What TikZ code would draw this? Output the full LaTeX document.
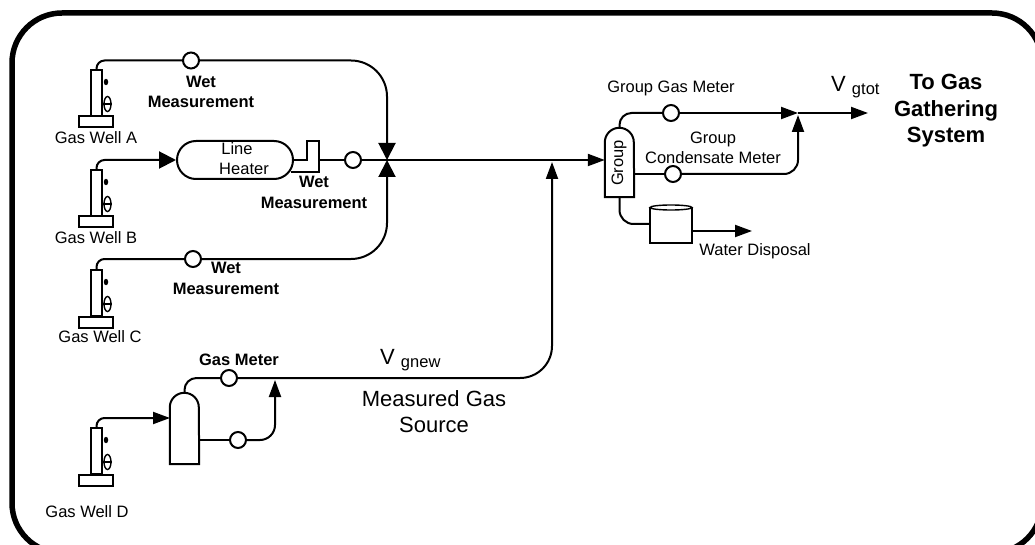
\documentclass[tikz,border=0pt]{standalone}
\usepackage{fontspec}
\setmainfont{Liberation Sans}
\usepackage{tikz}
\usetikzlibrary{arrows.meta,positioning,shapes.geometric}

\tikzset{
  pipe/.style={line width=2pt},
  flow/.style={pipe,-{Triangle[length=17pt,width=12pt]}},
  bigflow/.style={pipe,-{Triangle[length=17pt,width=17pt]}},
  meter/.style={draw,circle,line width=2pt,fill=white,minimum size=16pt,inner sep=0pt},
  lbl/.style={align=center,inner sep=0pt,font=\fontsize{16.5}{20}\selectfont},
  wetlbl/.style={lbl,font=\fontsize{16.5}{20.5}\selectfont\bfseries},
  biglbl/.style={lbl,font=\fontsize{22}{26}\selectfont},
  part/.style={draw,line width=2pt,inner sep=0pt},
}

% drum with a domed top: name, x, y, height
\newcommand{\drum}[4]{
  \node[inner sep=0pt,minimum width=29pt,minimum height=#4pt] (#1) at (#2,#3) {};
  \draw[pipe] (#1.south west) -- ([yshift=-14.5pt]#1.north west)
    arc[start angle=180,end angle=0,radius=14.5pt] -- (#1.south east) -- cycle;
}

\begin{document}
\begin{tikzpicture}[x=1pt,y=-1pt]
  \path[use as bounding box,clip] (0,0) rectangle (1035,545);
  \draw[line width=5.5pt,rounded corners=50pt] (12,13) rectangle (1042,553);

  % wells
  \foreach \nm/\ty in {A/70,B/170,C/270,D/428} {
    \node[part,minimum width=11pt,minimum height=46pt] (well\nm) at (96.5,\ty+23) {};
    \node[part,minimum width=34pt,minimum height=11pt] (base\nm) at (96,\ty+52) {};
    \node[draw,fill,ellipse,minimum width=4pt,minimum height=6pt,inner sep=0pt] (dot\nm) at (106,\ty+12) {};
    \node[draw,ellipse,line width=1.4pt,minimum width=7pt,minimum height=15pt,inner sep=0pt] (valve\nm) at (107.5,\ty+34) {};
    \draw[line width=1.4pt] (valve\nm.west) -- (valve\nm.east);
  }
  \node[lbl] (nameA) at (96,138) {Gas Well A};
  \node[lbl] (nameB) at (96,238) {Gas Well B};
  \node[lbl] (nameC) at (100,337) {Gas Well C};
  \node[lbl] (nameD) at (87,512) {Gas Well D};

  % heater
  \node[part,rounded corners=19pt,minimum width=116pt,minimum height=38pt] (heater) at (235,160) {};
  \node[lbl] (heatA) at (237,149) {Line};
  \node[lbl] (heatB) at (244,169) {Heater};
  \draw[pipe] (heater.east) -- ++(12.5,0) -- ++(0,-19) -- ++(12.5,0) -- ++(0,31) -- ++(-28,0);

  % meters
  \node[meter] (meterA) at (191,60.5) {};
  \node[meter] (meterB) at (353,160) {};
  \node[meter] (meterC) at (193,259) {};
  \node[meter] (meterGas) at (671,113) {};
  \node[meter] (meterCond) at (673,174) {};
  \node[meter] (meterNew) at (229,378) {};
  \node[meter] (meterLow) at (238,440) {};

  % vessels
  \drum{group}{619.5}{162.5}{69}
  \drum{sep}{184.5}{428.5}{71}
  \node[lbl,rotate=90] (groupname) at (619,163) {Group};
  \node[part,minimum width=42pt,minimum height=35pt] (tank) at (671,225.5) {};
  \node[part,ellipse,fill=white,line width=1.4pt,minimum width=42pt,minimum height=5pt] (tanktop) at (671,207.5) {};

  \coordinate (join) at (387,160);
  \coordinate (tee) at (552,162);
  \coordinate (gasjoin) at (798,113);
  \coordinate (gasup) at (798,115);
  \coordinate (outlet) at (868,113);
  \coordinate (waterout) at (752,231);
  \coordinate (newjoin) at (275,380);
  \coordinate (sepin) at (170,418);

  % well lines
  \draw[pipe,rounded corners=8pt] (wellA.north) |- (meterA.west);
  \draw[bigflow,rounded corners=36pt] (meterA.east) -| (join);
  \draw[bigflow,rounded corners=8pt] (wellB.north) |- (heater.west);
  \draw[pipe] ([xshift=25pt]heater.east) -- (meterB.west);
  \draw[pipe,rounded corners=8pt] (wellC.north) |- (meterC.west);
  \draw[bigflow,rounded corners=36pt] (meterC.east) -| (join);
  \draw[flow] (meterB.east) -- (join) -- (group.west |- join);

  % group outlets
  \draw[pipe,rounded corners=12pt] (group.north) |- (meterGas.west);
  \draw[flow] (meterGas.east) -- (gasjoin);
  \draw[flow] (gasjoin) -- (outlet);
  \draw[pipe] (group.east |- meterCond) -- (meterCond.west);
  \draw[flow,rounded corners=14pt] (meterCond.east) -| (gasup);
  \draw[pipe,rounded corners=14pt] (group.south) |- (tank.west |- 0,224);
  \draw[flow] (tank.east |- waterout) -- (waterout);

  % measured source
  \draw[flow,rounded corners=8pt] (wellD.north) |- (sepin);
  \draw[pipe,rounded corners=12pt] (sep.north) |- (meterNew.west);
  \draw[flow,rounded corners=32pt] (meterNew.east) -| (tee);
  \draw[pipe] (sep.east |- meterLow) -- (meterLow.west);
  \draw[flow,rounded corners=15pt] (meterLow.east) -| (newjoin);

  % labels
  \node[wetlbl] (wetA) at (201,92) {Wet\\Measurement};
  \node[wetlbl] (wetB) at (314,192.5) {Wet\\Measurement};
  \node[wetlbl] (wetC) at (226,278.5) {Wet\\Measurement};
  \node[wetlbl] (gasmeter) at (239,360) {Gas Meter};
  \node[lbl] (gasname) at (671,88) {Group Gas Meter};
  \node[lbl] (condname) at (713,148) {Group\\Condensate Meter};
  \node[lbl] (water) at (755,251) {Water Disposal};
  \node[biglbl,anchor=base west] (vnew) at (380,364) {V \raisebox{-3pt}{\fontsize{16.5}{20}\selectfont gnew}};
  \node[biglbl,anchor=base west] (vtot) at (831,92) {V \raisebox{-3pt}{\fontsize{16.5}{20}\selectfont gtot}};
  \node[biglbl] (source) at (434,412) {Measured Gas\\Source};
  \node[biglbl,font=\fontsize{22}{26.5}\selectfont\bfseries] (system) at (946,111) {To Gas\\Gathering\\System};
\end{tikzpicture}
\end{document}
